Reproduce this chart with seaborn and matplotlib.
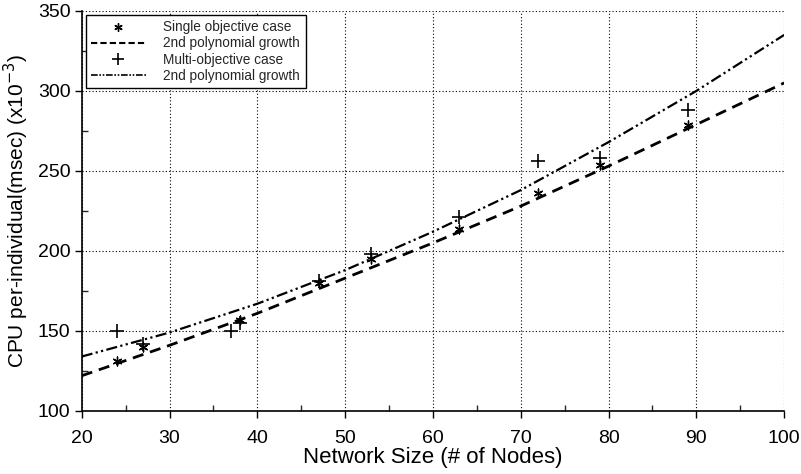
import matplotlib
matplotlib.use("Agg")
import matplotlib.pyplot as plt
import seaborn as sns
import pandas as pd
from matplotlib.lines import Line2D

# Measured data
single_x = [24, 27, 38, 47, 53, 63, 72, 79, 89]
single_y = [131, 140, 157, 180, 195, 214, 236, 254, 279]
multi_x = [24, 27, 37, 38, 47, 53, 63, 72, 79, 89]
multi_y = [150, 142, 150, 155, 181, 198, 221, 256, 258, 288]

# Polynomial growth curves
fit_x = [20, 30, 40, 50, 60, 70, 80, 90, 100]
fit_single = [122, 141, 161, 183, 205, 228, 253, 279, 305]
fit_multi = [134, 149, 167, 188, 212, 238, 268, 300, 335]

x_ticks = [20, 30, 40, 50, 60, 70, 80, 90, 100]
y_ticks = [100, 150, 200, 250, 300, 350]

sns.set_theme(style="ticks")
plt.rcParams['font.family'] = ['Liberation Sans', 'DejaVu Sans']

fig = plt.figure(figsize=(8.01, 4.74), dpi=100)
ax = fig.add_axes([0.102, 0.133, 0.877, 0.844])

df_s = pd.DataFrame({"x": single_x, "y": single_y})
df_m = pd.DataFrame({"x": multi_x, "y": multi_y})
df_fs = pd.DataFrame({"x": fit_x, "y": fit_single})
df_fm = pd.DataFrame({"x": fit_x, "y": fit_multi})

sns.lineplot(data=df_fs, x="x", y="y", ax=ax, color="black", lw=2.0,
             linestyle=(0, (4, 2.5)), zorder=3)
sns.lineplot(data=df_fm, x="x", y="y", ax=ax, color="black", lw=1.6,
             linestyle=(0, (5, 1.5, 1, 1.5, 1, 1.5)), zorder=3)
sns.scatterplot(data=df_s, x="x", y="y", ax=ax, marker=(6, 2, 0), s=40,
                color="black", linewidth=1.0, edgecolor="black", zorder=4)
sns.scatterplot(data=df_m, x="x", y="y", ax=ax, marker="+", s=100,
                color="black", linewidth=1.2, zorder=4)

ax.set_xlim(20, 100)
ax.set_ylim(100, 350)
ax.set_xticks(x_ticks)
ax.set_yticks(y_ticks)
ax.set_xticks([25, 35, 45, 55, 65, 75, 85, 95], minor=True)
ax.set_yticks([125, 175, 225, 275, 325], minor=True)
ax.tick_params(axis="both", which="major", direction="out", length=5,
               width=1, labelsize=14, colors="black", pad=3)
ax.tick_params(axis="x", which="major", pad=9)
ax.tick_params(axis="both", which="minor", direction="in", length=4, width=1)
ax.grid(True, which="major", color="black", linestyle=(0, (1, 2)), linewidth=0.8)
for s in ["top", "right"]:
    ax.spines[s].set_visible(False)
for s in ["left", "bottom"]:
    ax.spines[s].set_color("black")
    ax.spines[s].set_linewidth(1.2)

ax.set_xlabel("Network Size (# of Nodes)", fontsize=16, color="black", labelpad=0)
ax.set_ylabel("CPU per-individual(msec) (x10$^{-3}$)", fontsize=15, color="black", labelpad=5)

handles = [
    Line2D([], [], color="black", marker=(6, 2, 0), linestyle="none", markersize=6, markeredgewidth=1.0),
    Line2D([], [], color="black", lw=1.5, linestyle=(0, (3, 1.5))),
    Line2D([], [], color="black", marker="+", linestyle="none", markersize=9, markeredgewidth=1.2),
    Line2D([], [], color="black", lw=1.2, linestyle=(0, (4, 1, 1, 1, 1, 1))),
]
labels = ["Single objective case", "2nd polynomial growth",
          "Multi-objective case", "2nd polynomial growth"]
leg = ax.legend(handles, labels, loc="upper left", fontsize=9.8, frameon=True,
                fancybox=False, edgecolor="black", framealpha=1,
                borderpad=0.4, labelspacing=0.15, handlelength=4.0,
                handletextpad=1.3, borderaxespad=0.3)
leg.get_frame().set_linewidth(1.0)

fig.savefig("out.png", dpi=100)
